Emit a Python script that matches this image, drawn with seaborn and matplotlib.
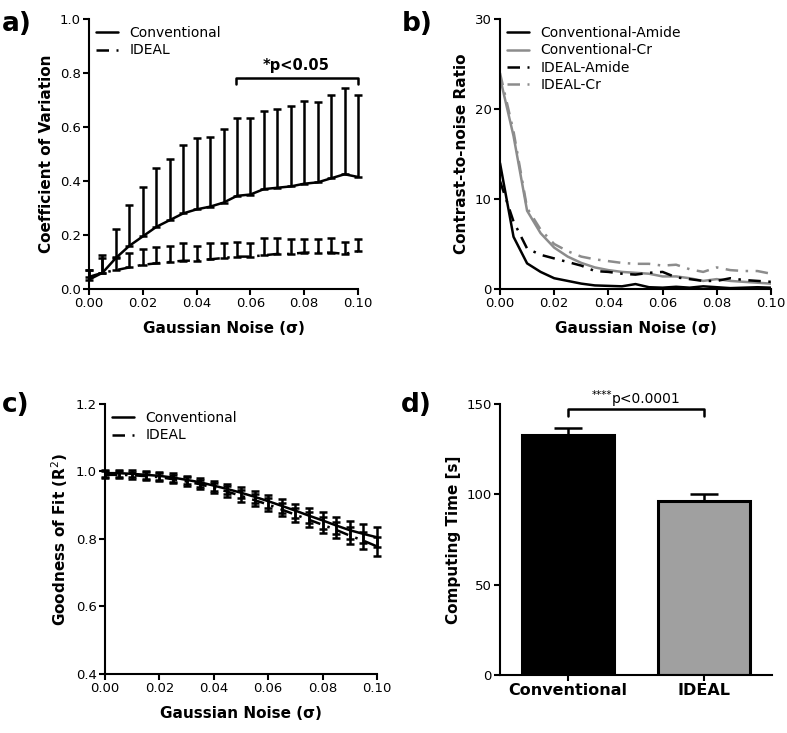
import numpy as np
import pandas as pd
import seaborn as sns
import matplotlib.pyplot as plt

noise = [0.000, 0.005, 0.010, 0.015, 0.020, 0.025, 0.030, 0.035, 0.040, 0.045, 0.050,
         0.055, 0.060, 0.065, 0.070, 0.075, 0.080, 0.085, 0.090, 0.095, 0.100]

# a) coefficient of variation (mean, top of error bar)
cv_conv = [0.035, 0.06, 0.115, 0.16, 0.195, 0.23, 0.255, 0.28, 0.295, 0.305, 0.32,
           0.345, 0.35, 0.37, 0.375, 0.38, 0.39, 0.395, 0.41, 0.425, 0.415]
cv_conv_top = [0.07, 0.127, 0.222, 0.31, 0.377, 0.45, 0.48, 0.533, 0.56, 0.562, 0.594,
               0.633, 0.633, 0.658, 0.667, 0.677, 0.698, 0.691, 0.717, 0.744, 0.717]
cv_ideal = [0.045, 0.06, 0.07, 0.08, 0.09, 0.095, 0.10, 0.105, 0.105, 0.11, 0.115,
            0.12, 0.12, 0.125, 0.13, 0.13, 0.135, 0.135, 0.135, 0.13, 0.14]
cv_ideal_top = [0.07, 0.115, 0.12, 0.135, 0.15, 0.155, 0.16, 0.17, 0.16, 0.17, 0.17,
                0.175, 0.17, 0.19, 0.19, 0.185, 0.185, 0.185, 0.19, 0.175, 0.185]

# b) contrast-to-noise ratio
cnr_conv_amide = [14, 5.8, 2.85, 1.9, 1.2, 0.9, 0.6, 0.4, 0.35, 0.3, 0.55,
                  0.2, 0.15, 0.25, 0.15, 0.3, 0.2, 0.1, 0.15, 0.2, 0.15]
cnr_conv_cr = [23.5, 17, 8.7, 6.2, 4.6, 3.6, 2.9, 2.4, 2.1, 1.9, 1.8,
               1.7, 1.4, 1.4, 1.2, 0.9, 1.1, 0.9, 0.8, 0.7, 0.6]
cnr_ideal_amide = [12, 7.5, 4.5, 3.8, 3.4, 3.0, 2.6, 2.0, 1.9, 1.7, 1.6,
                   1.8, 1.9, 1.3, 1.1, 0.9, 0.9, 1.2, 1.0, 0.9, 0.8]
cnr_ideal_cr = [24, 17.5, 9, 6.6, 5.0, 4.2, 3.6, 3.3, 3.1, 2.9, 2.8,
                2.8, 2.6, 2.7, 2.2, 1.9, 2.4, 2.1, 2.0, 2.0, 1.7]

# c) goodness of fit
r2_conv = [0.995, 0.995, 0.993, 0.99, 0.987, 0.982, 0.975, 0.968, 0.958, 0.948, 0.937,
           0.925, 0.912, 0.898, 0.884, 0.869, 0.855, 0.84, 0.826, 0.815, 0.805]
r2_conv_sd = [0.01, 0.01, 0.01, 0.011, 0.012, 0.012, 0.013, 0.014, 0.015, 0.016, 0.017,
              0.018, 0.019, 0.02, 0.021, 0.022, 0.024, 0.025, 0.026, 0.028, 0.03]
r2_ideal = [0.99, 0.99, 0.989, 0.986, 0.983, 0.977, 0.97, 0.962, 0.952, 0.94, 0.928,
            0.915, 0.902, 0.887, 0.872, 0.857, 0.842, 0.827, 0.81, 0.795, 0.778]
r2_ideal_sd = [0.01, 0.01, 0.01, 0.011, 0.012, 0.012, 0.013, 0.014, 0.015, 0.016, 0.017,
               0.018, 0.019, 0.02, 0.021, 0.022, 0.023, 0.024, 0.025, 0.026, 0.027]

# d) computing time
methods = ['Conventional', 'IDEAL']
time_mean = [133, 96.5]
time_sd = [4, 3.5]

sns.set_style("ticks")
plt.rcParams['font.family'] = ['DejaVu Sans']
plt.rcParams.update({
    'axes.linewidth': 1.5, 'axes.edgecolor': 'black', 'axes.labelcolor': 'black',
    'text.color': 'black', 'xtick.color': 'black', 'ytick.color': 'black',
    'xtick.major.width': 1.5, 'ytick.major.width': 1.5,
    'xtick.major.size': 4, 'ytick.major.size': 4,
})

tick_fs = 9.5
label_fs = 11
dashdot = (5, 3, 1, 3)
eb = dict(fmt='none', ecolor='black', elinewidth=1.8, capthick=1.8)

fig = plt.figure(figsize=(7.87, 7.33), dpi=100)
ax_a = fig.add_axes([0.1131, 0.6057, 0.3418, 0.3684])
ax_b = fig.add_axes([0.6353, 0.6057, 0.3443, 0.3684])
ax_c = fig.add_axes([0.1334, 0.0805, 0.3456, 0.3684])
ax_d = fig.add_axes([0.6353, 0.0791, 0.3456, 0.3697])

# ---- a)
df_a = pd.DataFrame({'x': noise * 2, 'y': cv_conv + cv_ideal,
                     'm': ['Conventional'] * 21 + ['IDEAL'] * 21})
sns.lineplot(data=df_a, x='x', y='y', style='m', dashes=['', dashdot], color='black',
             linewidth=1.8, ax=ax_a)
for mean, top in ((cv_conv, cv_conv_top), (cv_ideal, cv_ideal_top)):
    ebc = ax_a.errorbar(noise, mean, yerr=[np.zeros(21), np.array(top) - np.array(mean)],
                        capsize=3, **eb)
    for art in ebc.lines[1] + ebc.lines[2]:
        art.set_clip_on(False)
ax_a.set_xlim(0, 0.10)
ax_a.set_ylim(0, 1.0)
ax_a.set_yticks([0.0, 0.2, 0.4, 0.6, 0.8, 1.0])
ax_a.set_ylabel('Coefficient of Variation', fontsize=label_fs, fontweight='bold')
ax_a.plot([0.0545, 0.0545, 0.10, 0.10], [0.76, 0.78, 0.78, 0.76], color='black', lw=1.8,
          clip_on=False)
ax_a.text(0.077, 0.80, '*p<0.05', ha='center', va='bottom', fontsize=10.5, fontweight='bold')

# ---- b)
df_b = pd.DataFrame({'x': noise * 4,
                     'y': cnr_conv_amide + cnr_conv_cr + cnr_ideal_amide + cnr_ideal_cr,
                     's': ['Conventional-Amide'] * 21 + ['Conventional-Cr'] * 21
                          + ['IDEAL-Amide'] * 21 + ['IDEAL-Cr'] * 21})
sns.lineplot(data=df_b, x='x', y='y', hue='s', style='s',
             palette=['black', '#8c8c8c', 'black', '#8c8c8c'],
             dashes=['', '', dashdot, dashdot], linewidth=1.8, ax=ax_b)
ax_b.set_xlim(0, 0.10)
ax_b.set_ylim(0, 30)
ax_b.set_yticks([0, 10, 20, 30])
ax_b.set_ylabel('Contrast-to-noise Ratio', fontsize=label_fs, fontweight='bold')

# ---- c)
df_c = pd.DataFrame({'x': noise * 2, 'y': r2_conv + r2_ideal,
                     'm': ['Conventional'] * 21 + ['IDEAL'] * 21})
sns.lineplot(data=df_c, x='x', y='y', style='m', dashes=['', dashdot], color='black',
             linewidth=1.8, ax=ax_c)
for mean, sd in ((r2_conv, r2_conv_sd), (r2_ideal, r2_ideal_sd)):
    ebc = ax_c.errorbar(noise, mean, yerr=sd, capsize=3, **eb)
    for art in ebc.lines[1] + ebc.lines[2]:
        art.set_clip_on(False)
ax_c.set_xlim(0, 0.10)
ax_c.set_ylim(0.4, 1.2)
ax_c.set_yticks([0.4, 0.6, 0.8, 1.0, 1.2])
ax_c.set_ylabel('Goodness of Fit (R$^2$)', fontsize=label_fs, fontweight='bold')

for ax in (ax_a, ax_b, ax_c):
    ax.set_xticks([0.0, 0.02, 0.04, 0.06, 0.08, 0.10])
    ax.set_xticklabels(['0.00', '0.02', '0.04', '0.06', '0.08', '0.10'])
    ax.set_xlabel('Gaussian Noise (σ)', fontsize=label_fs, fontweight='bold', labelpad=8)
    ax.legend(loc='upper left', frameon=False, fontsize=10, handlelength=1.6,
              borderaxespad=0.1, labelspacing=0.25, title=None)

# ---- d)
df_d = pd.DataFrame({'method': methods, 'time': time_mean})
sns.barplot(data=df_d, x='method', y='time', hue='method', palette=['black', '#a0a0a0'],
            edgecolor='black', linewidth=2.2, width=0.67, legend=False, ax=ax_d)
ax_d.errorbar([0, 1], time_mean, yerr=[np.zeros(2), time_sd], capsize=10, **eb)
ax_d.set_xlim(-0.5, 1.5)
ax_d.set_ylim(0, 150)
ax_d.set_yticks([0, 50, 100, 150])
ax_d.set_xlabel('')
ax_d.set_ylabel('Computing Time [s]', fontsize=label_fs, fontweight='bold')
ax_d.plot([0, 0, 1, 1], [143.5, 147, 147, 143.5], color='black', lw=1.8, clip_on=False)
ax_d.text(0.3235, 152.5, '****', ha='right', va='bottom', fontsize=7.5)
ax_d.text(0.3235, 149, 'p<0.0001', ha='left', va='bottom', fontsize=10)

for ax in (ax_a, ax_b, ax_c, ax_d):
    sns.despine(ax=ax)
    ax.tick_params(axis='both', which='major', labelsize=tick_fs, length=4, width=1.5, pad=2)
ax_d.tick_params(axis='x', labelsize=11.5)
for lbl in ax_d.get_xticklabels():
    lbl.set_fontweight('bold')

fig.text(0.003, 0.985, 'a)', fontsize=19, fontweight='bold', va='top')
fig.text(0.51, 0.985, 'b)', fontsize=19, fontweight='bold', va='top')
fig.text(0.003, 0.465, 'c)', fontsize=19, fontweight='bold', va='top')
fig.text(0.51, 0.465, 'd)', fontsize=19, fontweight='bold', va='top')

fig.savefig('out.png', dpi=100)
